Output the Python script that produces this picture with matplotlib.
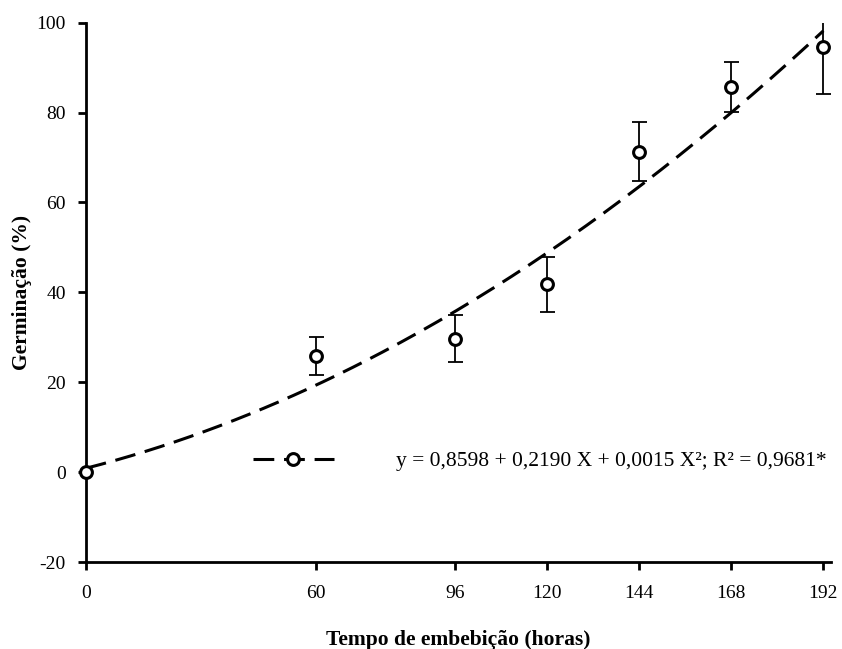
import numpy as np
import matplotlib
matplotlib.use("Agg")
import matplotlib.pyplot as plt

plt.rcParams["font.family"] = ["Liberation Serif", "DejaVu Serif"]
plt.rcParams["axes.unicode_minus"] = False

# germination over soaking time
horas = [0, 60, 96, 120, 144, 168, 192]
germ = [0.0, 25.8, 29.7, 41.8, 71.3, 85.7, 94.6]
desvio = [0.0, 4.2, 5.3, 6.1, 6.6, 5.5, 10.5]

# quadratic fit coefficients
b0, b1, b2 = 0.8598, 0.2190, 0.0015
eq = "y = 0,8598 + 0,2190 X + 0,0015 X²; R² = 0,9681*"

fig = plt.figure(figsize=(8.42, 6.49), dpi=100)
ax = fig.add_axes([0.102, 0.134, 0.885, 0.831])

lw = 2.2
dash = (6.8, 3.2)

xs = np.linspace(0, 192, 200)
ax.plot(xs, b0 + b1 * xs + b2 * xs**2, color="black", lw=lw,
        dashes=dash, zorder=2)

ax.errorbar(horas[1:], germ[1:], yerr=desvio[1:], fmt="none",
            ecolor="black", elinewidth=1.3, capsize=5.4, capthick=1.3,
            zorder=3)
ax.plot(horas, germ, "o", ms=8.5, mfc="white", mec="black", mew=2.2,
        clip_on=False, zorder=4)

# legend handle: dashed line with circle marker
ax.plot([], [], color="black", lw=lw, dashes=dash, marker="o", ms=8.5,
        mfc="white", mec="black", mew=2.2, label=eq)
ax.legend(loc="center left", bbox_to_anchor=(0.224, 0.187), frameon=False,
          borderpad=0, borderaxespad=0, handlelength=3.76,
          handletextpad=2.9, fontsize=15.5)

ax.set_xlim(0, 194)
ax.set_ylim(-20, 100)
ax.set_xticks(horas)
ax.set_yticks([-20, 0, 20, 40, 60, 80, 100])

for s in ["top", "right"]:
    ax.spines[s].set_visible(False)
for s in ["left", "bottom"]:
    ax.spines[s].set_linewidth(2)
ax.tick_params(width=2, length=5.5, direction="out", labelsize=14, pad=9)
ax.tick_params(axis="x", pad=11)

ax.set_xlabel("Tempo de embebição (horas)", fontweight="bold",
              fontsize=15.5, labelpad=20)
ax.set_ylabel("Germinação (%)", fontweight="bold", fontsize=15.5)
ax.yaxis.set_label_coords(-0.072, 0.5)

fig.savefig("out.png", dpi=100)
